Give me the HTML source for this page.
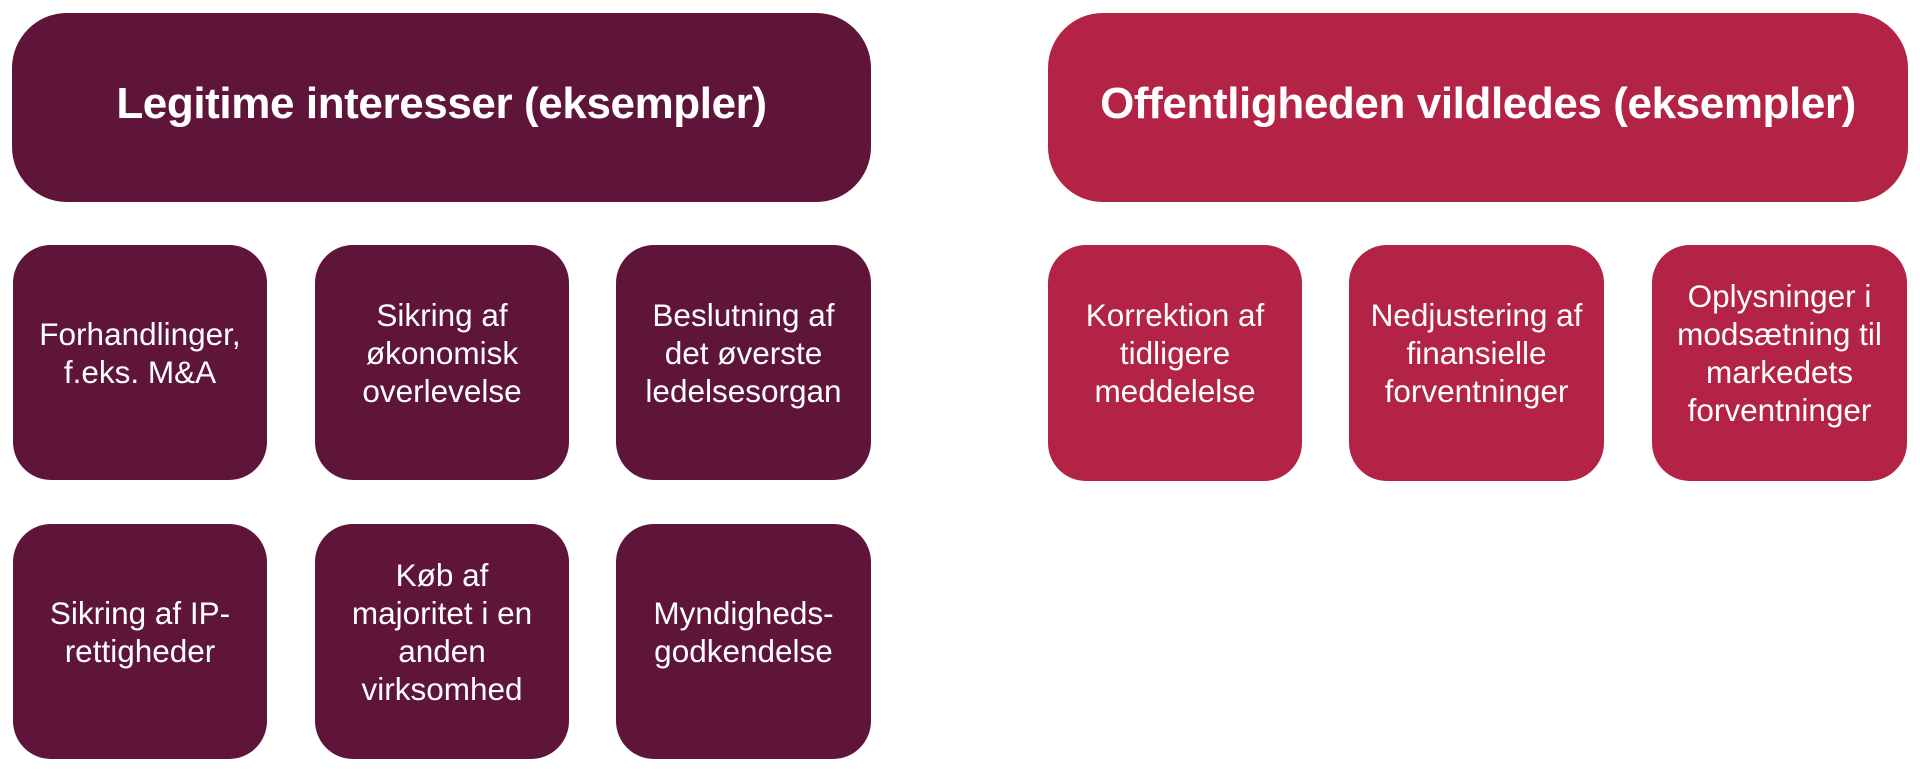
<!DOCTYPE html>
<html><head><meta charset="utf-8"><style>
body{margin:0;width:1920px;height:784px;background:#fff;position:relative;overflow:hidden;font-family:"Liberation Sans",sans-serif;}
.b{position:absolute;display:flex;align-items:center;justify-content:center;text-align:center;color:#fff;box-sizing:border-box;}
.h{border-radius:55px;font-weight:bold;font-size:44px;padding-bottom:8px;letter-spacing:-0.4px}
.s{border-radius:38px;font-size:31.5px;line-height:38px;padding:0 2px 20px;letter-spacing:0}
.d{background:#5f1539}.r{background:#b22345}
</style></head><body>
<div class="b h d" style="left:12px;top:13px;width:859px;height:189px">Legitime interesser (eksempler)</div>
<div class="b h r" style="left:1048px;top:13px;width:860px;height:189px">Offentligheden vildledes (eksempler)</div>

<div class="b s d" style="left:13px;top:245px;width:254px;height:235px">Forhandlinger,<br>f.eks. M&amp;A</div>
<div class="b s d" style="left:315px;top:245px;width:254px;height:235px">Sikring af<br>økonomisk<br>overlevelse</div>
<div class="b s d" style="left:616px;top:245px;width:255px;height:235px">Beslutning af<br>det øverste<br>ledelsesorgan</div>
<div class="b s d" style="left:13px;top:524px;width:254px;height:235px">Sikring af IP-<br>rettigheder</div>
<div class="b s d" style="left:315px;top:524px;width:254px;height:235px">Køb af<br>majoritet i en<br>anden<br>virksomhed</div>
<div class="b s d" style="left:616px;top:524px;width:255px;height:235px">Myndigheds-<br>godkendelse</div>

<div class="b s r" style="left:1048px;top:245px;width:254px;height:236px">Korrektion af<br>tidligere<br>meddelelse</div>
<div class="b s r" style="left:1349px;top:245px;width:255px;height:236px">Nedjustering af<br>finansielle<br>forventninger</div>
<div class="b s r" style="left:1652px;top:245px;width:255px;height:236px">Oplysninger i<br>modsætning til<br>markedets<br>forventninger</div>
</body></html>
